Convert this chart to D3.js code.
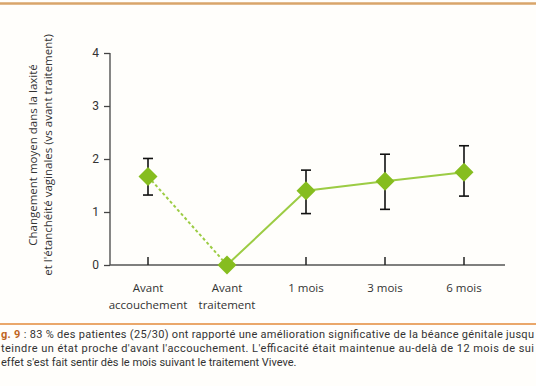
<!DOCTYPE html>
<html>
<head>
<meta charset="utf-8">
<script src="https://cdn.jsdelivr.net/npm/d3@7"></script>
<style>
  html, body { margin: 0; padding: 0; background: #fffefb; }
  svg { display: block; font-family: "Open Sans", Roboto, sans-serif; }
</style>
</head>
<body>
<div id="chart"></div>
<script>
"use strict";

var categories = ["Avant|accouchement", "Avant|traitement", "1 mois", "3 mois", "6 mois"];
var means = [1.67, 0, 1.40, 1.58, 1.75];
var upper = [2.01, null, 1.79, 2.09, 2.25];
var lower = [1.32, null, 0.97, 1.05, 1.30];
var yTicks = [0, 1, 2, 3, 4];
var yTitle = ["Changement moyen dans la laxité", "et l'étanchéité vaginales (vs avant traitement)"];
// caption as it appears in the (cropped) figure
var captionBold = "g. 9";
var caption = [
	" : 83 % des patientes (25/30) ont rapporté une amélioration significative de la béance génitale jusqu",
	"teindre un état proche d'avant l'accouchement. L'efficacité était maintenue au-delà de 12 mois de sui",
	"effet s'est fait sentir dès le mois suivant le traitement Viveve."
];

const W = 536, H = 386;
const green = "#86bd1f";

let svg = d3.select("#chart").append("svg")
	.attr("width", W)
	.attr("height", H);

svg.append("rect").attr("width", W).attr("height", H).attr("fill", "#fffefb");

// top rule
svg.append("line")
	.attr("x1", 0).attr("x2", W).attr("y1", 3.5).attr("y2", 3.5)
	.attr("stroke", "#d9a56a").attr("stroke-width", 2.5);

let x = d3.scalePoint().domain(categories).range([148, 464]);
let y = d3.scaleLinear().domain([0, 4]).range([265, 53]);

let data = categories.map((c, i) => ({cat: c, m: means[i], hi: upper[i], lo: lower[i]}));

// y axis
let yAxis = svg.append("g").attr("transform", "translate(110,0)")
	.call(d3.axisLeft(y).tickValues(yTicks).tickSize(6).tickPadding(5).tickFormat(d3.format("d")));
yAxis.select(".domain").attr("stroke", "#444").attr("stroke-width", 1.3).attr("d", `M0,${y(4)}V${y(0)}`);
yAxis.selectAll(".tick line").attr("stroke", "#444").attr("stroke-width", 1.3);
yAxis.selectAll(".tick text").attr("fill", "#333").style("font-size", "12px")
	.style("font-family", "Roboto, sans-serif");

// x axis line
svg.append("line")
	.attr("x1", 110).attr("x2", 505).attr("y1", y(0)).attr("y2", y(0))
	.attr("stroke", "#555").attr("stroke-width", 1.3);

// x ticks (upwards)
svg.selectAll(".xtick").data(categories).enter().append("line")
	.attr("x1", d => x(d)).attr("x2", d => x(d))
	.attr("y1", y(0)).attr("y2", y(0) - 8)
	.attr("stroke", "#222").attr("stroke-width", 1.5);

// x labels
svg.selectAll(".xlab").data(categories).enter().append("text")
	.attr("text-anchor", "middle")
	.attr("fill", "#333")
	.style("font-size", "11.5px")
	.each(function(d) {
		let parts = d.split("|");
		d3.select(this).selectAll("tspan").data(parts).enter().append("tspan")
			.attr("x", x(d))
			.attr("y", (p, j) => 292 + j * 17)
			.text(p => p);
	});

// y title
let yt = svg.append("text")
	.attr("transform", "translate(0,155) rotate(-90)")
	.attr("text-anchor", "middle")
	.attr("fill", "#333")
	.style("font-size", "11.5px");
yt.selectAll("tspan").data(yTitle).enter().append("tspan")
	.attr("x", 0)
	.attr("y", (d, i) => 37 + i * 15)
	.text(d => d);

// lines
let line = d3.line().x(d => x(d.cat)).y(d => y(d.m));
svg.append("path")
	.attr("d", line(data.slice(0, 2)))
	.attr("fill", "none").attr("stroke", "#9ccc44").attr("stroke-width", 2)
	.attr("stroke-dasharray", "3,2.5");
svg.append("path")
	.attr("d", line(data.slice(1)))
	.attr("fill", "none").attr("stroke", "#9ccc44").attr("stroke-width", 2);

// error bars
let eb = data.filter(d => d.hi !== null);
let g = svg.append("g").attr("stroke", "#111").attr("stroke-width", 1.6);
g.selectAll(".v").data(eb).enter().append("line")
	.attr("x1", d => x(d.cat)).attr("x2", d => x(d.cat))
	.attr("y1", d => y(d.hi)).attr("y2", d => y(d.lo));
g.selectAll(".t").data(eb).enter().append("line")
	.attr("x1", d => x(d.cat) - 5).attr("x2", d => x(d.cat) + 5)
	.attr("y1", d => y(d.hi)).attr("y2", d => y(d.hi));
g.selectAll(".b").data(eb).enter().append("line")
	.attr("x1", d => x(d.cat) - 5).attr("x2", d => x(d.cat) + 5)
	.attr("y1", d => y(d.lo)).attr("y2", d => y(d.lo));

// diamonds
const r = 9.5;
svg.selectAll(".mk").data(data).enter().append("path")
	.attr("d", d => {
		let cx = x(d.cat), cy = y(d.m);
		return `M${cx},${cy - r}L${cx + r},${cy}L${cx},${cy + r}L${cx - r},${cy}Z`;
	})
	.attr("fill", green);

// caption rule
svg.append("line")
	.attr("x1", 0).attr("x2", W).attr("y1", 324).attr("y2", 324)
	.attr("stroke", "#e38a3a").attr("stroke-width", 1.6);

// caption
let cap = svg.append("g").attr("fill", "#333").style("font-size", "11px")
	.style("font-family", "Roboto, sans-serif");
let capLens = [533, 533, null];
caption.forEach((t, i) => {
	let tx = cap.append("text").attr("x", 1).attr("y", 338 + i * 14);
	if (capLens[i]) tx.attr("textLength", capLens[i]).attr("lengthAdjust", "spacing");
	if (i === 0) {
		tx.append("tspan").attr("font-weight", "bold").attr("fill", "#c0651f").text(captionBold);
	}
	tx.append("tspan").text(t);
});
</script>
</body>
</html>
